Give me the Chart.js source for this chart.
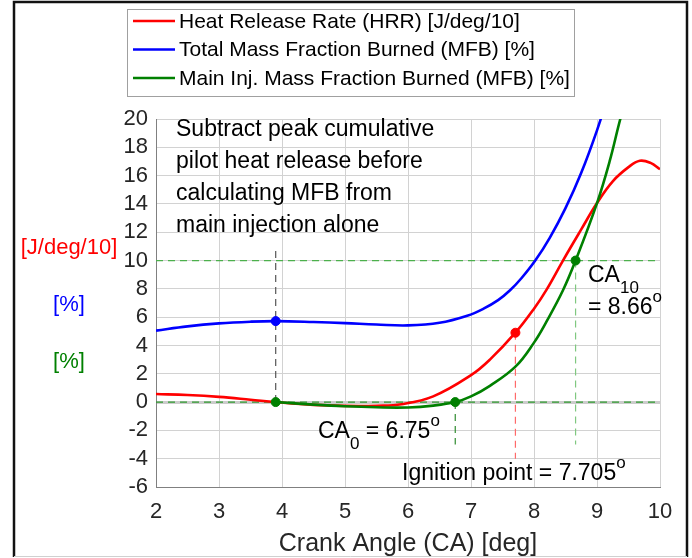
<!DOCTYPE html>
<html>
<head>
<meta charset="utf-8">
<script src="https://cdn.jsdelivr.net/npm/chart.js@4.4.1/dist/chart.umd.min.js"></script>
<style>
  html, body { margin: 0; padding: 0; background: #fff; }
</style>
</head>
<body>
<canvas id="c" width="692" height="558"></canvas>
<script>
// values (crank angle in deg)
const hrrX = [2, 2.5, 3, 3.5, 3.9, 4.5, 5, 5.5, 5.9, 6.4, 7, 7.3, 7.705, 8, 8.2, 8.46, 8.75, 9, 9.25, 9.5, 9.68, 9.85, 10];
const hrrY = [0.57, 0.5, 0.37, 0.17, 0, -0.2, -0.27, -0.26, -0.15, 0.4, 1.9, 3.0, 4.9, 6.6, 7.95, 10, 12.2, 14.06, 15.6, 16.6, 17.05, 16.9, 16.45];

const totalX = [2, 2.5, 3, 3.5, 3.9, 4.5, 5, 5.5, 6, 6.5, 6.94, 7.2, 7.43, 7.62, 7.8, 8.02, 8.25, 8.5, 8.75, 9, 9.2];
const totalY = [5.05, 5.35, 5.56, 5.68, 5.72, 5.66, 5.58, 5.48, 5.42, 5.6, 6.1, 6.6, 7.2, 7.9, 8.75, 10, 11.6, 13.7, 16.2, 19.2, 22];

const mainX = [3.9, 4.5, 5, 5.5, 6, 6.4, 6.75, 7, 7.3, 7.705, 8, 8.2, 8.46, 8.66, 9, 9.2, 9.37, 9.5];
const mainY = [0, -0.18, -0.3, -0.37, -0.38, -0.25, 0, 0.4, 1.15, 2.5, 4.2, 5.7, 7.9, 10, 14.06, 17, 20, 22];

const xTicks = [2, 3, 4, 5, 6, 7, 8, 9, 10];
const yTicks = [-6, -4, -2, 0, 2, 4, 6, 8, 10, 12, 14, 16, 18, 20];

const legendLabels = ['Heat Release Rate (HRR) [J/deg/10]', 'Total Mass Fraction Burned (MFB) [%]', 'Main Inj. Mass Fraction Burned (MFB) [%]'];

const pilotPeak = [3.9, 5.72];
const mainStart = [3.9, 0];
const ca0 = [6.75, 0];
const ignition = [7.705, 4.9];
const ca10 = [8.66, 10];

const FONT = '"Liberation Sans", Arial, sans-serif';
const RED = '#ff0000', BLUE = '#0000ff', GREEN = '#008000';

function pts(xs, ys) { return xs.map((x, i) => ({ x: x, y: ys[i] })); }

function curve(label, xs, ys, color, order) {
  return { label, data: pts(xs, ys), borderColor: color, borderWidth: 2.6, pointRadius: 0,
    tension: 0.4, order };
}
function marker(p, color) {
  return { data: [{ x: p[0], y: p[1] }], showLine: false, pointRadius: 4.5, pointBackgroundColor: color,
    pointBorderColor: color, borderColor: color, order: 0 };
}
function dashed(a, b, color, w) {
  return { data: [{ x: a[0], y: a[1] }, { x: b[0], y: b[1] }], borderColor: color, borderWidth: w || 1.2,
    borderDash: [7, 5], pointRadius: 0, order: 5 };
}

function rich(ctx, x, y, parts, size) {
  let cx = x;
  parts.forEach(p => {
    let fs = size, dy = 0;
    if (p.sub) { fs = 17; dy = 11; }
    if (p.sup) { fs = 17; dy = -12; }
    ctx.font = fs + 'px ' + FONT;
    ctx.fillText(p.t, cx, y + dy);
    cx += ctx.measureText(p.t).width;
  });
}

const decor = {
  id: 'decor',
  beforeDraw(chart) {
    const ctx = chart.ctx;
    ctx.save();
    ctx.fillStyle = '#fff';
    ctx.fillRect(0, 0, chart.width, chart.height);
    ctx.restore();
  },
  afterDraw(chart) {
    const ctx = chart.ctx;
    ctx.save();
    // figure frame
    ctx.strokeStyle = '#111';
    ctx.lineWidth = 2.5;
    ctx.beginPath();
    ctx.moveTo(14, 557); ctx.lineTo(14, 2); ctx.lineTo(687, 2); ctx.lineTo(687, 557);
    ctx.stroke();
    ctx.strokeStyle = '#d0d0d0';
    ctx.lineWidth = 1;
    ctx.beginPath(); ctx.moveTo(14, 556.5); ctx.lineTo(687, 556.5); ctx.stroke();

    // legend
    ctx.fillStyle = '#fff';
    ctx.fillRect(127.5, 9.5, 447, 87);
    ctx.strokeStyle = '#a0a0a0';
    ctx.strokeRect(127.5, 9.5, 447, 87);
    const cols = [RED, BLUE, GREEN];
    const rowY = [21, 49.5, 78];
    ctx.textBaseline = 'middle';
    ctx.font = '21px ' + FONT;
    legendLabels.forEach((t, i) => {
      ctx.strokeStyle = cols[i];
      ctx.lineWidth = 2.6;
      ctx.beginPath(); ctx.moveTo(133, rowY[i]); ctx.lineTo(175, rowY[i]); ctx.stroke();
      ctx.fillStyle = '#000';
      ctx.fillText(t, 179, rowY[i] + 1);
    });

    // axis unit labels
    ctx.textAlign = 'center';
    ctx.font = '22px ' + FONT;
    ctx.fillStyle = RED; ctx.fillText('[J/deg/10]', 69, 248);
    ctx.fillStyle = BLUE; ctx.fillText('[%]', 69, 305);
    ctx.fillStyle = GREEN; ctx.fillText('[%]', 69, 362);
    ctx.fillStyle = '#262626';
    ctx.font = '25px ' + FONT;
    ctx.fillText('Crank Angle (CA) [deg]', 408, 544);

    // annotations
    ctx.textAlign = 'left';
    ctx.textBaseline = 'alphabetic';
    ctx.fillStyle = '#000';
    ctx.font = '23px ' + FONT;
    ['Subtract peak cumulative', 'pilot heat release before', 'calculating MFB from', 'main injection alone']
      .forEach((t, i) => ctx.fillText(t, 176, 136 + i * 32));
    rich(ctx, 588, 282, [{ t: 'CA' }, { t: '10', sub: true }], 23);
    rich(ctx, 588, 314, [{ t: '= 8.66' }, { t: 'o', sup: true }], 23);
    rich(ctx, 318, 438, [{ t: 'CA' }, { t: '0', sub: true }, { t: ' = 6.75' }, { t: 'o', sup: true }], 23);
    rich(ctx, 402, 480, [{ t: 'Ignition point = 7.705' }, { t: 'o', sup: true }], 23);
    ctx.restore();
  }
};

new Chart(document.getElementById('c'), {
  type: 'line',
  data: {
    datasets: [
      marker(pilotPeak, BLUE),
      marker(mainStart, GREEN),
      marker(ca0, GREEN),
      marker(ignition, RED),
      marker(ca10, GREEN),
      curve(legendLabels[2], mainX, mainY, GREEN, 1),
      curve(legendLabels[0], hrrX, hrrY, RED, 2),
      curve(legendLabels[1], totalX, totalY, BLUE, 3),
      dashed([2, 10], [10, 10], '#4cb04c'),
      dashed([2, 0], [10, 0], '#2e9a2e'),
      dashed([3.9, 0], [3.9, 10.75], '#555555'),
      dashed([6.75, 0], [6.75, -3], '#2e8b2e'),
      dashed([7.705, 4.9], [7.705, -4], '#ff6a6a'),
      dashed([8.66, 10], [8.66, -3], '#80c880')
    ]
  },
  options: {
    responsive: false,
    animation: false,
    devicePixelRatio: 1,
    layout: { padding: { top: 119, right: 32, left: 0, bottom: 0 } },
    plugins: { legend: { display: false }, tooltip: { enabled: false } },
    scales: {
      x: {
        type: 'linear', min: 2, max: 10,
        afterBuildTicks: s => { s.ticks = xTicks.map(v => ({ value: v })); },
        afterFit: s => { s.height = 71; },
        grid: { color: '#d2d2d2', drawTicks: false },
        border: { color: '#808080' },
        ticks: { color: '#262626', font: { family: FONT, size: 22 }, padding: 12, maxRotation: 0, autoSkip: false }
      },
      y: {
        min: -6, max: 20,
        afterBuildTicks: s => { s.ticks = yTicks.map(v => ({ value: v })); },
        afterFit: s => { s.width = 156; },
        grid: {
          color: c => (c.tick && c.tick.value === 0 ? '#cccccc' : '#d2d2d2'),
          lineWidth: c => (c.tick && c.tick.value === 0 ? 3 : 1),
          drawTicks: false
        },
        border: { color: '#808080' },
        ticks: { color: '#262626', font: { family: FONT, size: 22 }, padding: 8, autoSkip: false }
      }
    }
  },
  plugins: [decor]
});
</script>
</body>
</html>
